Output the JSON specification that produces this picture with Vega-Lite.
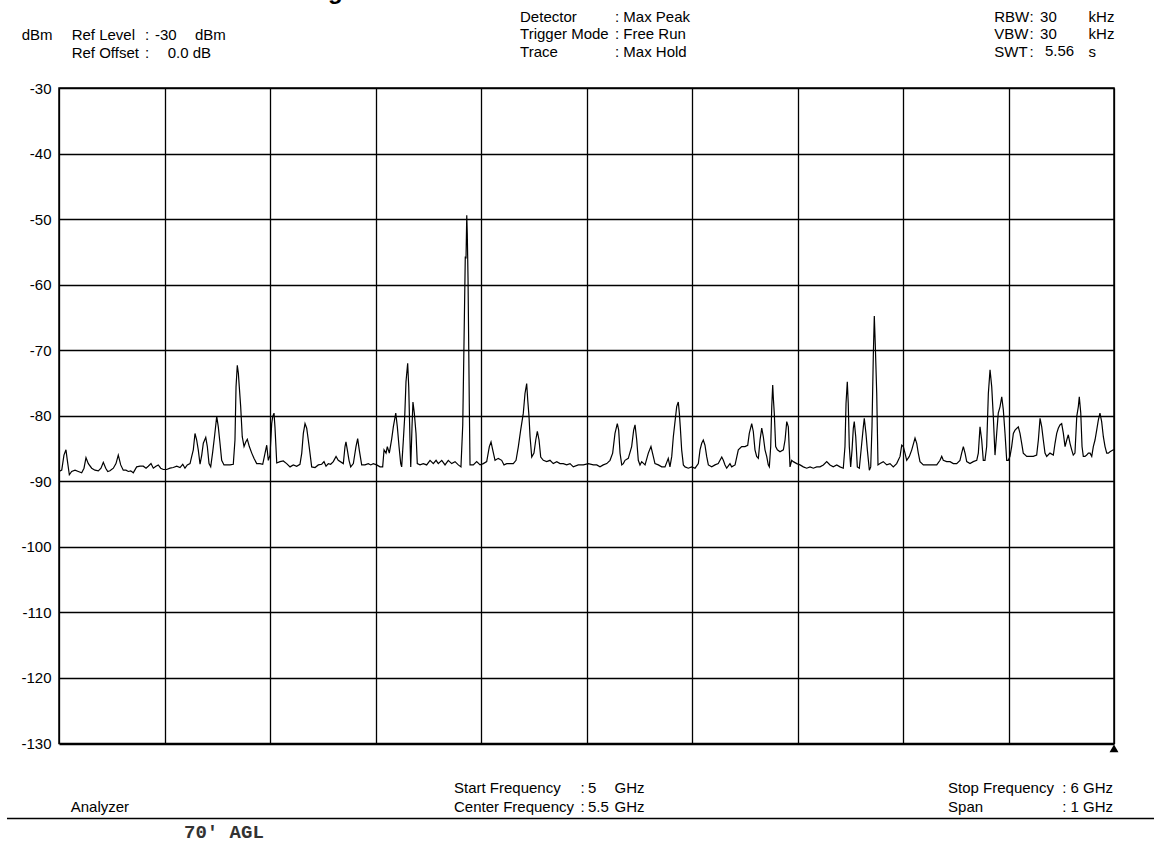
{
  "$schema": "https://vega.github.io/schema/vega-lite/v6.json",
  "width": 1055,
  "height": 655.5,
  "autosize": {"type": "none"},
  "padding": {"left": 59, "top": 88, "right": 40, "bottom": 100.5},
  "background": "white",
  "config": {
    "font": "Liberation Sans",
    "view": {"stroke": "#000", "strokeWidth": 1.5},
    "text": {"fontSize": 15, "color": "#000", "font": "Liberation Sans"}
  },
  "resolve": {"axis": {"x": "independent", "y": "independent"}},
  "datasets": {
    "trace": [
      {"MHz":5000,"dBm":-88.5},{"MHz":5002.6,"dBm":-88.3},{"MHz":5004.7,"dBm":-86.0},{"MHz":5006.6,"dBm":-85.2},{"MHz":5007.9,"dBm":-86.8},{"MHz":5009.8,"dBm":-89.0},{"MHz":5012.0,"dBm":-88.5},{"MHz":5015.2,"dBm":-88.3},{"MHz":5018.3,"dBm":-88.5},{"MHz":5021.5,"dBm":-88.7},{"MHz":5023.7,"dBm":-88.0},{"MHz":5025.6,"dBm":-86.4},{"MHz":5027.8,"dBm":-87.3},{"MHz":5031.0,"dBm":-88.0},{"MHz":5034.1,"dBm":-88.3},{"MHz":5037.3,"dBm":-88.4},{"MHz":5039.8,"dBm":-88.0},{"MHz":5042.0,"dBm":-87.1},{"MHz":5044.3,"dBm":-88.0},{"MHz":5046.2,"dBm":-88.5},{"MHz":5048.3,"dBm":-88.4},{"MHz":5051.5,"dBm":-88.0},{"MHz":5054.0,"dBm":-87.3},{"MHz":5056.2,"dBm":-86.0},{"MHz":5058.5,"dBm":-87.5},{"MHz":5060.9,"dBm":-88.3},{"MHz":5063.5,"dBm":-88.3},{"MHz":5065.7,"dBm":-88.5},{"MHz":5068.0,"dBm":-88.4},{"MHz":5070.4,"dBm":-88.7},{"MHz":5073.6,"dBm":-87.8},{"MHz":5076.8,"dBm":-87.7},{"MHz":5079.9,"dBm":-87.7},{"MHz":5082.5,"dBm":-88.0},{"MHz":5084.6,"dBm":-87.7},{"MHz":5087.2,"dBm":-87.3},{"MHz":5089.4,"dBm":-88.0},{"MHz":5091.9,"dBm":-87.7},{"MHz":5094.1,"dBm":-87.5},{"MHz":5096.4,"dBm":-88.0},{"MHz":5098.9,"dBm":-88.2},
      {"MHz":5102.1,"dBm":-88.2},{"MHz":5105.2,"dBm":-88.0},{"MHz":5108.3,"dBm":-87.9},{"MHz":5111.6,"dBm":-87.7},{"MHz":5114.7,"dBm":-87.9},{"MHz":5117.3,"dBm":-87.4},{"MHz":5119.4,"dBm":-88.0},{"MHz":5121.6,"dBm":-87.5},{"MHz":5124.2,"dBm":-87.3},{"MHz":5125.8,"dBm":-86.2},{"MHz":5127.3,"dBm":-85.2},{"MHz":5128.9,"dBm":-82.7},{"MHz":5130.5,"dBm":-83.7},{"MHz":5132.0,"dBm":-85.2},{"MHz":5133.7,"dBm":-87.4},{"MHz":5135.3,"dBm":-86.0},{"MHz":5136.8,"dBm":-84.2},{"MHz":5139.1,"dBm":-83.3},{"MHz":5140.6,"dBm":-84.7},{"MHz":5142.2,"dBm":-87.3},{"MHz":5143.8,"dBm":-87.8},{"MHz":5145.7,"dBm":-85.5},{"MHz":5147.6,"dBm":-82.9},{"MHz":5149.5,"dBm":-80.1},{"MHz":5151.0,"dBm":-81.7},{"MHz":5152.6,"dBm":-84.2},{"MHz":5154.2,"dBm":-86.8},{"MHz":5156.4,"dBm":-87.5},{"MHz":5159.0,"dBm":-87.5},{"MHz":5162.1,"dBm":-87.5},{"MHz":5165.2,"dBm":-87.4},{"MHz":5166.8,"dBm":-83.7},{"MHz":5167.8,"dBm":-75.6},{"MHz":5169.0,"dBm":-72.3},{"MHz":5170.0,"dBm":-73.5},{"MHz":5170.9,"dBm":-75.6},{"MHz":5172.2,"dBm":-78.6},{"MHz":5173.7,"dBm":-83.2},{"MHz":5175.4,"dBm":-84.7},{"MHz":5177.0,"dBm":-84.0},{"MHz":5178.5,"dBm":-83.6},{"MHz":5180.4,"dBm":-84.7},{"MHz":5182.7,"dBm":-85.7},{"MHz":5184.8,"dBm":-86.5},{"MHz":5187.4,"dBm":-87.3},{"MHz":5190.5,"dBm":-87.3},{"MHz":5193.1,"dBm":-87.4},{"MHz":5195.3,"dBm":-85.7},{"MHz":5196.9,"dBm":-84.5},{"MHz":5198.4,"dBm":-86.8},{"MHz":5200.0,"dBm":-86.0},
      {"MHz":5201.6,"dBm":-81.2},{"MHz":5202.6,"dBm":-80.1},{"MHz":5203.8,"dBm":-79.6},{"MHz":5204.7,"dBm":-81.7},{"MHz":5206.4,"dBm":-87.2},{"MHz":5209.5,"dBm":-87.0},{"MHz":5212.6,"dBm":-86.9},{"MHz":5215.8,"dBm":-87.3},{"MHz":5219.0,"dBm":-87.8},{"MHz":5222.1,"dBm":-87.5},{"MHz":5225.3,"dBm":-87.7},{"MHz":5228.4,"dBm":-87.4},{"MHz":5230.1,"dBm":-85.7},{"MHz":5231.6,"dBm":-82.7},{"MHz":5233.2,"dBm":-81.2},{"MHz":5234.8,"dBm":-81.9},{"MHz":5236.3,"dBm":-83.7},{"MHz":5237.9,"dBm":-85.7},{"MHz":5239.5,"dBm":-87.8},{"MHz":5242.7,"dBm":-87.9},{"MHz":5245.8,"dBm":-87.5},{"MHz":5249.0,"dBm":-87.4},{"MHz":5251.2,"dBm":-87.0},{"MHz":5253.1,"dBm":-87.7},{"MHz":5255.3,"dBm":-87.3},{"MHz":5257.5,"dBm":-87.4},{"MHz":5260.0,"dBm":-87.0},{"MHz":5262.6,"dBm":-86.2},{"MHz":5264.7,"dBm":-86.8},{"MHz":5269.5,"dBm":-87.3},{"MHz":5271.1,"dBm":-84.7},{"MHz":5272.0,"dBm":-84.0},{"MHz":5273.3,"dBm":-85.2},{"MHz":5274.9,"dBm":-86.8},{"MHz":5276.5,"dBm":-87.8},{"MHz":5279.0,"dBm":-87.3},{"MHz":5281.5,"dBm":-84.7},{"MHz":5283.1,"dBm":-83.5},{"MHz":5284.6,"dBm":-85.2},{"MHz":5286.9,"dBm":-87.5},{"MHz":5290.0,"dBm":-87.5},{"MHz":5293.2,"dBm":-87.3},{"MHz":5295.5,"dBm":-87.5},{"MHz":5297.9,"dBm":-87.3},
      {"MHz":5301.1,"dBm":-87.5},{"MHz":5304.3,"dBm":-87.8},{"MHz":5306.8,"dBm":-87.8},{"MHz":5308.1,"dBm":-85.2},{"MHz":5310.0,"dBm":-85.7},{"MHz":5311.2,"dBm":-84.7},{"MHz":5313.1,"dBm":-85.7},{"MHz":5315.4,"dBm":-83.5},{"MHz":5316.9,"dBm":-81.7},{"MHz":5319.2,"dBm":-79.6},{"MHz":5320.7,"dBm":-81.7},{"MHz":5322.3,"dBm":-84.7},{"MHz":5323.9,"dBm":-87.3},{"MHz":5324.8,"dBm":-87.8},{"MHz":5326.4,"dBm":-83.7},{"MHz":5327.7,"dBm":-80.1},{"MHz":5328.9,"dBm":-74.8},{"MHz":5330.5,"dBm":-72.0},{"MHz":5331.5,"dBm":-75.6},{"MHz":5332.7,"dBm":-83.7},{"MHz":5333.4,"dBm":-87.8},{"MHz":5334.6,"dBm":-81.7},{"MHz":5335.5,"dBm":-77.9},{"MHz":5336.8,"dBm":-79.6},{"MHz":5338.4,"dBm":-82.7},{"MHz":5339.6,"dBm":-87.3},{"MHz":5342.2,"dBm":-87.5},{"MHz":5345.3,"dBm":-87.3},{"MHz":5348.5,"dBm":-87.5},{"MHz":5351.7,"dBm":-86.8},{"MHz":5354.8,"dBm":-87.3},{"MHz":5357.4,"dBm":-86.8},{"MHz":5359.5,"dBm":-87.3},{"MHz":5362.8,"dBm":-86.8},{"MHz":5365.9,"dBm":-87.5},{"MHz":5369.0,"dBm":-86.8},{"MHz":5372.2,"dBm":-87.3},{"MHz":5375.4,"dBm":-87.0},{"MHz":5378.5,"dBm":-87.5},{"MHz":5381.0,"dBm":-87.8},{"MHz":5382.7,"dBm":-81.4},{"MHz":5383.9,"dBm":-68.7},{"MHz":5385.1,"dBm":-55.7},{"MHz":5385.8,"dBm":-56.0},{"MHz":5386.5,"dBm":-49.4},{"MHz":5387.0,"dBm":-52.2},{"MHz":5387.7,"dBm":-59.0},{"MHz":5388.9,"dBm":-78.1},{"MHz":5389.6,"dBm":-87.5},{"MHz":5392.7,"dBm":-87.5},{"MHz":5395.9,"dBm":-87.0},{"MHz":5399.1,"dBm":-87.5},
      {"MHz":5402.2,"dBm":-87.3},{"MHz":5405.4,"dBm":-87.0},{"MHz":5407.9,"dBm":-84.7},{"MHz":5409.5,"dBm":-84.0},{"MHz":5411.1,"dBm":-85.2},{"MHz":5413.3,"dBm":-86.8},{"MHz":5416.4,"dBm":-86.5},{"MHz":5419.6,"dBm":-86.8},{"MHz":5421.8,"dBm":-87.5},{"MHz":5424.4,"dBm":-87.3},{"MHz":5427.5,"dBm":-87.3},{"MHz":5430.6,"dBm":-87.3},{"MHz":5433.2,"dBm":-86.8},{"MHz":5435.4,"dBm":-84.7},{"MHz":5437.6,"dBm":-82.2},{"MHz":5440.1,"dBm":-79.6},{"MHz":5441.7,"dBm":-76.6},{"MHz":5443.3,"dBm":-75.1},{"MHz":5444.3,"dBm":-77.6},{"MHz":5445.5,"dBm":-80.1},{"MHz":5446.5,"dBm":-83.2},{"MHz":5448.1,"dBm":-86.3},{"MHz":5450.2,"dBm":-85.7},{"MHz":5451.9,"dBm":-83.7},{"MHz":5453.4,"dBm":-82.4},{"MHz":5455.0,"dBm":-83.7},{"MHz":5456.6,"dBm":-86.3},{"MHz":5459.1,"dBm":-86.8},{"MHz":5462.3,"dBm":-87.0},{"MHz":5465.4,"dBm":-86.8},{"MHz":5468.5,"dBm":-87.3},{"MHz":5471.8,"dBm":-87.0},{"MHz":5474.9,"dBm":-87.3},{"MHz":5478.0,"dBm":-87.3},{"MHz":5481.2,"dBm":-87.5},{"MHz":5484.4,"dBm":-87.3},{"MHz":5487.5,"dBm":-87.8},{"MHz":5492.2,"dBm":-87.5},{"MHz":5497.0,"dBm":-87.5},
      {"MHz":5501.7,"dBm":-87.3},{"MHz":5506.5,"dBm":-87.5},{"MHz":5509.7,"dBm":-87.5},{"MHz":5512.8,"dBm":-87.8},{"MHz":5515.9,"dBm":-87.5},{"MHz":5519.2,"dBm":-87.3},{"MHz":5522.3,"dBm":-86.8},{"MHz":5524.8,"dBm":-85.7},{"MHz":5527.0,"dBm":-82.7},{"MHz":5529.2,"dBm":-81.2},{"MHz":5530.5,"dBm":-82.2},{"MHz":5531.8,"dBm":-85.7},{"MHz":5533.4,"dBm":-87.5},{"MHz":5534.9,"dBm":-87.3},{"MHz":5536.5,"dBm":-86.8},{"MHz":5539.6,"dBm":-86.5},{"MHz":5542.8,"dBm":-84.7},{"MHz":5544.7,"dBm":-82.2},{"MHz":5546.0,"dBm":-81.4},{"MHz":5547.6,"dBm":-83.7},{"MHz":5549.1,"dBm":-86.8},{"MHz":5550.7,"dBm":-87.5},{"MHz":5552.3,"dBm":-87.0},{"MHz":5555.5,"dBm":-87.5},{"MHz":5558.6,"dBm":-85.7},{"MHz":5561.1,"dBm":-84.7},{"MHz":5563.3,"dBm":-86.2},{"MHz":5564.9,"dBm":-87.3},{"MHz":5568.1,"dBm":-87.5},{"MHz":5571.3,"dBm":-87.8},{"MHz":5574.4,"dBm":-87.8},{"MHz":5577.5,"dBm":-86.5},{"MHz":5579.1,"dBm":-87.8},{"MHz":5580.8,"dBm":-86.2},{"MHz":5582.3,"dBm":-83.2},{"MHz":5583.9,"dBm":-80.9},{"MHz":5585.5,"dBm":-78.6},{"MHz":5587.0,"dBm":-77.9},{"MHz":5588.0,"dBm":-79.6},{"MHz":5588.9,"dBm":-81.7},{"MHz":5590.2,"dBm":-85.2},{"MHz":5591.8,"dBm":-87.5},{"MHz":5593.4,"dBm":-87.8},{"MHz":5596.5,"dBm":-88.0},{"MHz":5599.7,"dBm":-87.8},
      {"MHz":5602.9,"dBm":-88.0},{"MHz":5606.0,"dBm":-87.3},{"MHz":5607.6,"dBm":-85.2},{"MHz":5609.2,"dBm":-84.2},{"MHz":5610.7,"dBm":-83.7},{"MHz":5612.3,"dBm":-84.5},{"MHz":5613.9,"dBm":-86.2},{"MHz":5615.5,"dBm":-87.5},{"MHz":5618.7,"dBm":-87.8},{"MHz":5621.8,"dBm":-87.5},{"MHz":5624.9,"dBm":-87.3},{"MHz":5628.2,"dBm":-86.3},{"MHz":5629.7,"dBm":-86.8},{"MHz":5631.3,"dBm":-87.5},{"MHz":5632.9,"dBm":-88.0},{"MHz":5636.0,"dBm":-87.3},{"MHz":5637.6,"dBm":-87.8},{"MHz":5640.8,"dBm":-87.5},{"MHz":5643.9,"dBm":-85.2},{"MHz":5647.1,"dBm":-84.7},{"MHz":5650.2,"dBm":-84.7},{"MHz":5652.8,"dBm":-84.5},{"MHz":5654.3,"dBm":-82.7},{"MHz":5656.6,"dBm":-81.2},{"MHz":5658.1,"dBm":-82.4},{"MHz":5659.7,"dBm":-85.2},{"MHz":5661.3,"dBm":-86.2},{"MHz":5662.9,"dBm":-86.5},{"MHz":5664.5,"dBm":-83.7},{"MHz":5666.1,"dBm":-81.9},{"MHz":5667.6,"dBm":-83.2},{"MHz":5669.2,"dBm":-85.2},{"MHz":5670.8,"dBm":-86.2},{"MHz":5672.3,"dBm":-87.5},{"MHz":5673.3,"dBm":-87.8},{"MHz":5674.6,"dBm":-84.7},{"MHz":5675.6,"dBm":-78.6},{"MHz":5676.5,"dBm":-75.3},{"MHz":5677.1,"dBm":-77.3},{"MHz":5678.0,"dBm":-79.6},{"MHz":5679.3,"dBm":-84.7},{"MHz":5680.9,"dBm":-85.2},{"MHz":5683.4,"dBm":-85.5},{"MHz":5686.6,"dBm":-85.2},{"MHz":5688.2,"dBm":-83.7},{"MHz":5689.8,"dBm":-80.9},{"MHz":5691.3,"dBm":-81.7},{"MHz":5692.9,"dBm":-87.8},{"MHz":5694.5,"dBm":-86.8},{"MHz":5696.0,"dBm":-87.0},{"MHz":5699.3,"dBm":-87.3},
      {"MHz":5702.4,"dBm":-87.5},{"MHz":5705.5,"dBm":-87.8},{"MHz":5708.7,"dBm":-88.0},{"MHz":5711.9,"dBm":-87.8},{"MHz":5715.0,"dBm":-88.0},{"MHz":5718.2,"dBm":-87.8},{"MHz":5721.3,"dBm":-87.8},{"MHz":5724.5,"dBm":-87.5},{"MHz":5727.7,"dBm":-87.0},{"MHz":5730.8,"dBm":-87.5},{"MHz":5733.9,"dBm":-87.8},{"MHz":5737.2,"dBm":-87.5},{"MHz":5740.3,"dBm":-87.8},{"MHz":5743.4,"dBm":-88.0},{"MHz":5745.0,"dBm":-84.7},{"MHz":5746.0,"dBm":-78.1},{"MHz":5747.2,"dBm":-74.8},{"MHz":5748.1,"dBm":-78.1},{"MHz":5749.1,"dBm":-84.7},{"MHz":5750.4,"dBm":-87.8},{"MHz":5751.7,"dBm":-85.2},{"MHz":5752.9,"dBm":-81.9},{"MHz":5753.8,"dBm":-80.9},{"MHz":5755.2,"dBm":-83.2},{"MHz":5756.7,"dBm":-87.8},{"MHz":5758.6,"dBm":-88.0},{"MHz":5760.9,"dBm":-84.2},{"MHz":5762.4,"dBm":-81.7},{"MHz":5763.3,"dBm":-80.4},{"MHz":5764.9,"dBm":-82.7},{"MHz":5766.2,"dBm":-85.2},{"MHz":5768.1,"dBm":-88.3},{"MHz":5769.4,"dBm":-87.8},{"MHz":5770.6,"dBm":-81.7},{"MHz":5771.9,"dBm":-70.5},{"MHz":5772.8,"dBm":-64.8},{"MHz":5773.7,"dBm":-69.0},{"MHz":5775.1,"dBm":-76.6},{"MHz":5776.3,"dBm":-87.5},{"MHz":5778.2,"dBm":-87.3},{"MHz":5781.3,"dBm":-87.0},{"MHz":5784.6,"dBm":-87.5},{"MHz":5787.7,"dBm":-87.3},{"MHz":5790.8,"dBm":-87.8},{"MHz":5794.0,"dBm":-87.3},{"MHz":5797.2,"dBm":-86.2},{"MHz":5798.8,"dBm":-84.5},
      {"MHz":5800.3,"dBm":-84.7},{"MHz":5801.9,"dBm":-85.7},{"MHz":5803.5,"dBm":-86.8},{"MHz":5806.0,"dBm":-86.2},{"MHz":5808.3,"dBm":-85.2},{"MHz":5811.4,"dBm":-83.4},{"MHz":5813.0,"dBm":-84.2},{"MHz":5814.5,"dBm":-85.7},{"MHz":5816.1,"dBm":-87.0},{"MHz":5819.3,"dBm":-87.5},{"MHz":5822.5,"dBm":-87.5},{"MHz":5825.6,"dBm":-87.5},{"MHz":5828.7,"dBm":-87.5},{"MHz":5832.0,"dBm":-87.5},{"MHz":5835.1,"dBm":-86.8},{"MHz":5836.7,"dBm":-86.2},{"MHz":5838.2,"dBm":-86.8},{"MHz":5841.4,"dBm":-87.0},{"MHz":5844.6,"dBm":-87.0},{"MHz":5847.7,"dBm":-87.3},{"MHz":5850.9,"dBm":-87.3},{"MHz":5854.0,"dBm":-86.8},{"MHz":5855.6,"dBm":-85.7},{"MHz":5857.2,"dBm":-84.7},{"MHz":5858.8,"dBm":-85.7},{"MHz":5860.4,"dBm":-87.0},{"MHz":5863.5,"dBm":-87.3},{"MHz":5866.6,"dBm":-87.0},{"MHz":5869.9,"dBm":-86.8},{"MHz":5871.4,"dBm":-85.7},{"MHz":5873.0,"dBm":-81.7},{"MHz":5874.6,"dBm":-83.7},{"MHz":5876.1,"dBm":-86.8},{"MHz":5877.7,"dBm":-86.8},{"MHz":5879.3,"dBm":-84.7},{"MHz":5880.9,"dBm":-76.6},{"MHz":5882.5,"dBm":-73.0},{"MHz":5884.1,"dBm":-75.6},{"MHz":5885.6,"dBm":-80.1},{"MHz":5887.2,"dBm":-86.0},{"MHz":5888.8,"dBm":-82.7},{"MHz":5890.3,"dBm":-79.6},{"MHz":5892.0,"dBm":-78.6},{"MHz":5893.6,"dBm":-77.1},{"MHz":5895.1,"dBm":-79.1},{"MHz":5896.7,"dBm":-82.7},{"MHz":5898.3,"dBm":-86.8},{"MHz":5899.8,"dBm":-86.8},
      {"MHz":5901.4,"dBm":-86.2},{"MHz":5903.0,"dBm":-84.7},{"MHz":5904.6,"dBm":-82.7},{"MHz":5906.2,"dBm":-82.2},{"MHz":5909.3,"dBm":-81.7},{"MHz":5910.9,"dBm":-82.7},{"MHz":5912.5,"dBm":-84.2},{"MHz":5914.0,"dBm":-85.7},{"MHz":5917.3,"dBm":-86.2},{"MHz":5920.4,"dBm":-86.2},{"MHz":5923.5,"dBm":-86.2},{"MHz":5926.7,"dBm":-86.0},{"MHz":5928.3,"dBm":-83.7},{"MHz":5929.9,"dBm":-80.4},{"MHz":5931.5,"dBm":-81.7},{"MHz":5933.0,"dBm":-83.7},{"MHz":5934.6,"dBm":-85.7},{"MHz":5936.2,"dBm":-86.2},{"MHz":5939.3,"dBm":-85.7},{"MHz":5942.5,"dBm":-86.0},{"MHz":5944.1,"dBm":-84.2},{"MHz":5945.7,"dBm":-82.7},{"MHz":5947.2,"dBm":-81.9},{"MHz":5948.8,"dBm":-81.4},{"MHz":5950.4,"dBm":-81.2},{"MHz":5952.0,"dBm":-82.7},{"MHz":5953.6,"dBm":-84.7},{"MHz":5955.2,"dBm":-83.7},{"MHz":5956.7,"dBm":-82.9},{"MHz":5958.3,"dBm":-84.2},{"MHz":5959.9,"dBm":-85.2},{"MHz":5961.4,"dBm":-86.0},{"MHz":5963.0,"dBm":-85.7},{"MHz":5964.7,"dBm":-80.1},{"MHz":5966.2,"dBm":-78.6},{"MHz":5967.1,"dBm":-77.1},{"MHz":5968.5,"dBm":-79.6},{"MHz":5969.7,"dBm":-84.7},{"MHz":5970.9,"dBm":-86.2},{"MHz":5972.5,"dBm":-86.2},{"MHz":5974.1,"dBm":-86.0},{"MHz":5975.7,"dBm":-85.7},{"MHz":5977.3,"dBm":-85.7},{"MHz":5978.9,"dBm":-86.2},{"MHz":5980.4,"dBm":-84.7},{"MHz":5982.0,"dBm":-83.7},{"MHz":5983.6,"dBm":-82.2},{"MHz":5985.1,"dBm":-80.7},{"MHz":5986.7,"dBm":-79.6},{"MHz":5988.3,"dBm":-80.9},{"MHz":5989.9,"dBm":-83.2},{"MHz":5991.5,"dBm":-84.7},{"MHz":5993.1,"dBm":-85.7},{"MHz":5994.6,"dBm":-85.7},{"MHz":5996.2,"dBm":-85.5},{"MHz":5999.3,"dBm":-85.2},{"MHz":6000,"dBm":-85.2}
    ]
  },
  "layer": [
    {
      "data": {"name": "trace"},
      "mark": {"type": "line", "color": "#000", "strokeWidth": 1.2, "clip": true},
      "encoding": {
        "x": {
          "field": "MHz", "type": "quantitative",
          "scale": {"domain": [5000, 6000], "nice": false, "zero": false},
          "axis": {
            "values": [5000, 5100, 5200, 5300, 5400, 5500, 5600, 5700, 5800, 5900, 6000],
            "title": null, "labels": false, "ticks": false, "domain": false,
            "grid": true, "gridColor": "#000", "gridWidth": 1.3, "gridOpacity": 1
          }
        },
        "y": {
          "field": "dBm", "type": "quantitative",
          "scale": {"domain": [-130, -30], "nice": false, "zero": false},
          "axis": {
            "values": [-30, -40, -50, -60, -70, -80, -90, -100, -110, -120, -130],
            "labelExpr": "'' + datum.value",
            "title": null, "ticks": false, "domain": false,
            "grid": true, "gridColor": "#000", "gridWidth": 1.3, "gridOpacity": 1,
            "labelFont": "Liberation Sans", "labelFontSize": 15, "labelColor": "#000",
            "labelPadding": 8, "labelFlush": false, "labelOverlap": false
          }
        }
      }
    },
    {
      "data": {"values": [{}]},
      "mark": {"type": "point", "shape": "triangle-up", "filled": true, "color": "#000", "size": 80, "opacity": 1},
      "encoding": {
        "x": {"datum": 6000, "type": "quantitative", "axis": null},
        "y": {"datum": -130.75, "type": "quantitative", "axis": null}
      }
    },
    {
      "data": {"values": [{}]},
      "mark": {"type": "text", "text": "g", "align": "left", "baseline": "alphabetic", "fontSize": 24, "fontWeight": "bold"},
      "encoding": {"x": {"datum": 5255.0, "type": "quantitative", "axis": null}, "y": {"datum": -16.42, "type": "quantitative", "axis": null}}
    },
    {
      "data": {"values": [{}]},
      "mark": {"type": "text", "text": "dBm", "align": "left", "baseline": "alphabetic"},
      "encoding": {"x": {"datum": 4964.6, "type": "quantitative", "axis": null}, "y": {"datum": -22.68, "type": "quantitative", "axis": null}}
    },
    {
      "data": {"values": [{}]},
      "mark": {"type": "text", "text": ["Ref Level", "Ref Offset"], "align": "left", "baseline": "alphabetic", "lineHeight": 17.5},
      "encoding": {"x": {"datum": 5012.0, "type": "quantitative", "axis": null}, "y": {"datum": -22.68, "type": "quantitative", "axis": null}}
    },
    {
      "data": {"values": [{}]},
      "mark": {"type": "text", "text": [":", ":"], "align": "left", "baseline": "alphabetic", "lineHeight": 17.5},
      "encoding": {"x": {"datum": 5081.5, "type": "quantitative", "axis": null}, "y": {"datum": -22.68, "type": "quantitative", "axis": null}}
    },
    {
      "data": {"values": [{}]},
      "mark": {"type": "text", "text": "-30", "align": "left", "baseline": "alphabetic"},
      "encoding": {"x": {"datum": 5091.0, "type": "quantitative", "axis": null}, "y": {"datum": -22.68, "type": "quantitative", "axis": null}}
    },
    {
      "data": {"values": [{}]},
      "mark": {"type": "text", "text": "dBm", "align": "left", "baseline": "alphabetic"},
      "encoding": {"x": {"datum": 5128.9, "type": "quantitative", "axis": null}, "y": {"datum": -22.68, "type": "quantitative", "axis": null}}
    },
    {
      "data": {"values": [{}]},
      "mark": {"type": "text", "text": "0.0 dB", "align": "left", "baseline": "alphabetic"},
      "encoding": {"x": {"datum": 5103.0, "type": "quantitative", "axis": null}, "y": {"datum": -25.35, "type": "quantitative", "axis": null}}
    },
    {
      "data": {"values": [{}]},
      "mark": {"type": "text", "text": ["Detector", "Trigger Mode", "Trace"], "align": "left", "baseline": "alphabetic", "lineHeight": 17.5},
      "encoding": {"x": {"datum": 5437.0, "type": "quantitative", "axis": null}, "y": {"datum": -19.86, "type": "quantitative", "axis": null}}
    },
    {
      "data": {"values": [{}]},
      "mark": {"type": "text", "text": [": Max Peak", ": Free Run", ": Max Hold"], "align": "left", "baseline": "alphabetic", "lineHeight": 17.5},
      "encoding": {"x": {"datum": 5527.0, "type": "quantitative", "axis": null}, "y": {"datum": -19.86, "type": "quantitative", "axis": null}}
    },
    {
      "data": {"values": [{}]},
      "mark": {"type": "text", "text": ["RBW", "VBW", "SWT"], "align": "left", "baseline": "alphabetic", "lineHeight": 17.5},
      "encoding": {"x": {"datum": 5886.5, "type": "quantitative", "axis": null}, "y": {"datum": -19.86, "type": "quantitative", "axis": null}}
    },
    {
      "data": {"values": [{}]},
      "mark": {"type": "text", "text": [":", ":", ":"], "align": "left", "baseline": "alphabetic", "lineHeight": 17.5},
      "encoding": {"x": {"datum": 5919.9, "type": "quantitative", "axis": null}, "y": {"datum": -19.86, "type": "quantitative", "axis": null}}
    },
    {
      "data": {"values": [{}]},
      "mark": {"type": "text", "text": ["30", "30"], "align": "left", "baseline": "alphabetic", "lineHeight": 17.5},
      "encoding": {"x": {"datum": 5929.9, "type": "quantitative", "axis": null}, "y": {"datum": -19.86, "type": "quantitative", "axis": null}}
    },
    {
      "data": {"values": [{}]},
      "mark": {"type": "text", "text": "5.56", "align": "left", "baseline": "alphabetic"},
      "encoding": {"x": {"datum": 5934.6, "type": "quantitative", "axis": null}, "y": {"datum": -25.19, "type": "quantitative", "axis": null}}
    },
    {
      "data": {"values": [{}]},
      "mark": {"type": "text", "text": ["kHz", "kHz", "s"], "align": "left", "baseline": "alphabetic", "lineHeight": 17.5},
      "encoding": {"x": {"datum": 5975.9, "type": "quantitative", "axis": null}, "y": {"datum": -19.86, "type": "quantitative", "axis": null}}
    },
    {
      "data": {"values": [{}]},
      "mark": {"type": "text", "text": ["Start Frequency", "Center Frequency"], "align": "left", "baseline": "alphabetic", "lineHeight": 19},
      "encoding": {"x": {"datum": 5374.4, "type": "quantitative", "axis": null}, "y": {"datum": -137.55, "type": "quantitative", "axis": null}}
    },
    {
      "data": {"values": [{}]},
      "mark": {"type": "text", "text": [":", ":"], "align": "left", "baseline": "alphabetic", "lineHeight": 19},
      "encoding": {"x": {"datum": 5494.3, "type": "quantitative", "axis": null}, "y": {"datum": -137.55, "type": "quantitative", "axis": null}}
    },
    {
      "data": {"values": [{}]},
      "mark": {"type": "text", "text": ["5", "5.5"], "align": "left", "baseline": "alphabetic", "lineHeight": 19},
      "encoding": {"x": {"datum": 5501.4, "type": "quantitative", "axis": null}, "y": {"datum": -137.55, "type": "quantitative", "axis": null}}
    },
    {
      "data": {"values": [{}]},
      "mark": {"type": "text", "text": ["GHz", "GHz"], "align": "left", "baseline": "alphabetic", "lineHeight": 19},
      "encoding": {"x": {"datum": 5526.5, "type": "quantitative", "axis": null}, "y": {"datum": -137.55, "type": "quantitative", "axis": null}}
    },
    {
      "data": {"values": [{}]},
      "mark": {"type": "text", "text": ["Stop Frequency", "Span"], "align": "left", "baseline": "alphabetic", "lineHeight": 19},
      "encoding": {"x": {"datum": 5842.7, "type": "quantitative", "axis": null}, "y": {"datum": -137.55, "type": "quantitative", "axis": null}}
    },
    {
      "data": {"values": [{}]},
      "mark": {"type": "text", "text": [": 6 GHz", ": 1 GHz"], "align": "right", "baseline": "alphabetic", "lineHeight": 19},
      "encoding": {"x": {"datum": 5999.1, "type": "quantitative", "axis": null}, "y": {"datum": -137.55, "type": "quantitative", "axis": null}}
    },
    {
      "data": {"values": [{}]},
      "mark": {"type": "text", "text": "Analyzer", "align": "left", "baseline": "alphabetic"},
      "encoding": {"x": {"datum": 5011.1, "type": "quantitative", "axis": null}, "y": {"datum": -140.45, "type": "quantitative", "axis": null}}
    },
    {
      "data": {"values": [{}]},
      "mark": {"type": "rule", "color": "#000", "strokeWidth": 1.5},
      "encoding": {
        "x": {"datum": 4950.7, "type": "quantitative", "axis": null},
        "x2": {"datum": 6038.0},
        "y": {"datum": -141.44, "type": "quantitative", "axis": null}
      }
    },
    {
      "data": {"values": [{}]},
      "mark": {"type": "text", "text": "70' AGL", "align": "left", "baseline": "alphabetic", "font": "Liberation Mono", "fontSize": 19, "fontWeight": "bold", "color": "#333"},
      "encoding": {"x": {"datum": 5118.5, "type": "quantitative", "axis": null}, "y": {"datum": -144.42, "type": "quantitative", "axis": null}}
    }
  ]
}
